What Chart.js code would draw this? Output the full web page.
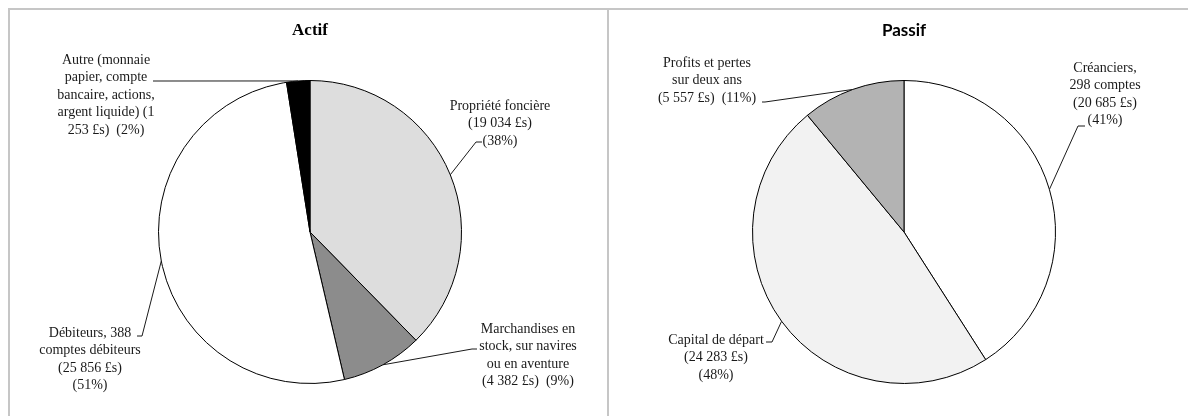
<!DOCTYPE html>
<html>
<head>
<meta charset="utf-8">
<script src="https://cdn.jsdelivr.net/npm/chart.js@4"></script>
<style>
  html, body { margin: 0; padding: 0; background: #ffffff; }
  body { width: 1188px; height: 416px; position: relative; overflow: hidden; }
  .frame { position: absolute; left: 8px; top: 8px; width: 1200px; height: 500px; border: 2px solid #c6c6c6; box-sizing: border-box; }
  .divider { position: absolute; left: 607px; top: 8px; width: 2px; height: 420px; background: #c6c6c6; }
  .panel { position: absolute; top: 10px; height: 406px; }
  #actif-wrap { left: 10px; width: 596px; }
  #passif-wrap { left: 610px; width: 578px; }
</style>
</head>
<body>
<div class="frame"></div>
<div class="divider"></div>
<div class="panel" id="actif-wrap"><canvas id="actif"></canvas></div>
<div class="panel" id="passif-wrap"><canvas id="passif"></canvas></div>
<script>
// Actif
const actifCategories = ["Propriété foncière", "Marchandises en stock, sur navires ou en aventure", "Débiteurs, 388 comptes débiteurs", "Autre (monnaie papier, compte bancaire, actions, argent liquide)"];
const actifValues = [19034, 4382, 25856, 1253];
const actifLabelLines = [
  ["Propriété foncière", "(19 034 £s)", "(38%)"],
  ["Marchandises en", "stock, sur navires", "ou en aventure", "(4 382 £s)  (9%)"],
  ["Débiteurs, 388", "comptes débiteurs", "(25 856 £s)", "(51%)"],
  ["Autre (monnaie", "papier, compte", "bancaire, actions,", "argent liquide) (1", "253 £s)  (2%)"],
];

// Passif
const passifCategories = ["Créanciers, 298 comptes", "Capital de départ", "Profits et pertes sur deux ans"];
const passifValues = [20685, 24283, 5557];
const passifLabelLines = [
  ["Créanciers,", "298 comptes", "(20 685 £s)", "(41%)"],
  ["Capital de départ", "(24 283 £s)", "(48%)"],
  ["Profits et pertes", "sur deux ans", "(5 557 £s)  (11%)"],
];

// label placement (canvas-local px): centre x, first line y, leader start + elbow
const actifLabelPos = [
  { cx: 490, y: 96, leader: [[472, 132], [466, 132]] },
  { cx: 518, y: 319, leader: [[467, 339], [462, 339]] },
  { cx: 80, y: 323, leader: [[127, 326], [132, 326]] },
  { cx: 96, y: 50, leader: [[143, 71], [150, 71]] },
];
const passifLabelPos = [
  { cx: 495, y: 58, leader: [[475, 116], [468, 116]] },
  { cx: 106, y: 330, leader: [[156, 332], [162, 332]] },
  { cx: 97, y: 53, leader: [[152, 92], [155, 92]] },
];

const LINE_H = 17.6;

const pieLabels = {
  id: "pieLabels",
  afterDatasetsDraw(chart, args, opts) {
    const ctx = chart.ctx;
    const arcs = chart.getDatasetMeta(0).data;
    ctx.save();
    arcs.forEach((arc, i) => {
      const p = opts.positions[i];
      const { x, y, startAngle, endAngle, outerRadius } = arc.getProps(["x", "y", "startAngle", "endAngle", "outerRadius"], true);
      const mid = (startAngle + endAngle) / 2;
      const ax = x + Math.cos(mid) * outerRadius;
      const ay = y + Math.sin(mid) * outerRadius;

      ctx.strokeStyle = "#1a1a1a";
      ctx.lineWidth = 1;
      ctx.beginPath();
      ctx.moveTo(p.leader[0][0], p.leader[0][1]);
      ctx.lineTo(p.leader[1][0], p.leader[1][1]);
      ctx.lineTo(ax, ay);
      ctx.stroke();

      ctx.fillStyle = "#1a1a1a";
      ctx.font = "14px 'Liberation Serif', 'Times New Roman', serif";
      ctx.textAlign = "center";
      ctx.textBaseline = "middle";
      opts.lines[i].forEach((line, k) => {
        ctx.fillText(line, p.cx, p.y + k * LINE_H);
      });
    });
    ctx.restore();
  },
};

function makePie(id, title, titleFont, categories, values, colors, lines, positions, pad) {
  return new Chart(document.getElementById(id), {
    type: "pie",
    data: {
      labels: categories,
      datasets: [{
        data: values,
        backgroundColor: colors,
        borderColor: "#000000",
        borderWidth: 1,
      }],
    },
    options: {
      responsive: true,
      maintainAspectRatio: false,
      animation: false,
      layout: { padding: pad },
      plugins: {
        legend: { display: false },
        tooltip: { enabled: false },
        title: {
          display: true,
          text: title,
          color: "#000000",
          font: titleFont,
          padding: { top: 10, bottom: 39.6 },
        },
        pieLabels: { lines, positions },
      },
    },
    plugins: [pieLabels],
  });
}

makePie(
  "actif", "Actif",
  { family: "'Liberation Serif', 'Times New Roman', serif", size: 17, weight: "bold", lineHeight: 1.2 },
  actifCategories, actifValues,
  ["#dddddd", "#8c8c8c", "#ffffff", "#000000"],
  actifLabelLines, actifLabelPos,
  { left: 148, right: 144, top: 0, bottom: 32 }
);

makePie(
  "passif", "Passif",
  { family: "Lato, 'Liberation Sans', sans-serif", size: 17, weight: "bold", lineHeight: 1.2 },
  passifCategories, passifValues,
  ["#ffffff", "#f2f2f2", "#b3b3b3"],
  passifLabelLines, passifLabelPos,
  { left: 142, right: 132, top: 0, bottom: 32 }
);
</script>
</body>
</html>
